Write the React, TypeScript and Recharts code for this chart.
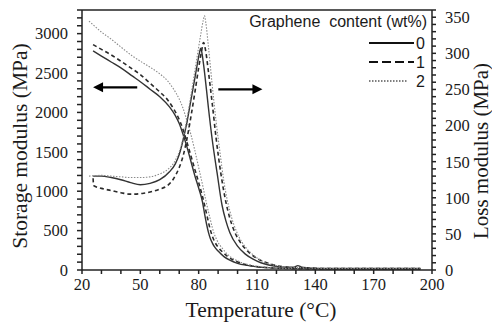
import React from 'react';
import { ComposedChart, Line, XAxis, YAxis, ReferenceLine } from 'recharts';

// ---- Storage modulus (left axis, MPa) ----
const storage0T = [25.7, 30, 35, 40, 46, 50, 55, 60, 65, 68, 70, 72, 74, 76, 78, 80, 82, 83, 84, 85, 86, 87, 88, 90, 93, 96, 100, 105, 110, 115, 120, 130, 140, 160, 180, 194];
const storage0V = [2780, 2715, 2640, 2565, 2460, 2390, 2295, 2200, 2070, 1960, 1860, 1720, 1560, 1380, 1200, 1040, 860, 720, 590, 480, 400, 345, 300, 240, 170, 125, 85, 58, 40, 30, 24, 18, 15, 13, 12, 12];

const storage1T = [25.7, 30, 35, 40, 46, 50, 55, 60, 64, 67, 70.5, 72, 74, 76, 78, 80, 82, 84, 85, 86, 87, 88, 90, 92, 95, 98, 102, 107, 112, 118, 125, 135, 150, 170, 194];
const storage1V = [2860, 2800, 2730, 2650, 2550, 2480, 2370, 2260, 2160, 2050, 1880, 1780, 1620, 1450, 1280, 1110, 930, 720, 610, 510, 430, 370, 290, 235, 170, 125, 85, 55, 38, 26, 19, 15, 13, 12, 12];

const storage2T = [23.6, 30, 35, 40, 46, 50, 55, 60, 64, 67, 70, 72, 74, 76, 78, 80, 82, 84, 86, 87, 88, 89, 90, 92, 95, 98, 102, 107, 112, 118, 125, 135, 150, 170, 194];
const storage2V = [3160, 3020, 2930, 2830, 2715, 2650, 2575, 2490, 2400, 2300, 2170, 2050, 1890, 1720, 1520, 1300, 1080, 850, 640, 540, 460, 400, 350, 280, 195, 140, 95, 60, 42, 28, 20, 16, 14, 13, 12];

// ---- Loss modulus (right axis, MPa) ----
const loss0T = [25.7, 30, 35, 40, 45, 50, 55, 60, 65, 68, 70, 72, 74, 76, 78, 79.5, 80.5, 81, 81.5, 82.5, 84, 85, 87, 89.5, 92, 94, 96, 100, 104, 108, 112, 116, 120, 125, 129, 131, 133, 136, 145, 160, 180, 194];
const loss0V = [130, 130, 128, 125, 121, 118, 120, 125, 136, 147, 160, 180, 205, 235, 265, 288, 302, 307, 303, 285, 250, 225, 180, 134, 90, 68, 52, 33, 22, 15, 10, 7, 5, 4, 4, 6, 4, 3, 2, 2, 2, 2];

const loss1T = [25.7, 26, 30, 35, 40, 45, 51, 55, 60, 64, 67, 70, 72, 74, 76, 78, 80, 81.5, 82.5, 83.5, 85, 87, 89, 91.5, 94, 96, 98, 102, 106, 110, 115, 120, 125, 130, 135, 145, 160, 180, 194];
const loss1V = [127, 117, 113, 110, 107, 105, 106, 108, 112, 117, 126, 142, 158, 182, 212, 245, 280, 303, 315, 305, 275, 230, 182, 132, 94, 72, 56, 36, 24, 16, 10, 6, 4, 3, 3, 2, 2, 2, 2];

const loss2T = [23.6, 30, 35, 40, 45, 50, 55, 60, 64, 68, 71, 74, 77, 79, 81, 82.3, 83, 83.7, 85, 87, 89, 91, 93, 96, 100, 104, 108, 113, 120, 127, 135, 150, 170, 194];
const loss2V = [130, 131, 130, 129, 128, 128, 129, 133, 139, 152, 172, 210, 258, 292, 325, 345, 352, 342, 310, 255, 205, 162, 122, 82, 50, 32, 21, 12, 6, 4, 3, 2, 2, 2];

// ---- axes ----
const xTicks = [20, 30, 40, 50, 60, 70, 80, 90, 100, 110, 120, 130, 140, 150, 160, 170, 180, 190, 200];
const xLabelStep = 30;
const leftTicks = Array.from({ length: 34 }, (_, i) => i * 100);
const leftLabelStep = 500;
const rightTicks = Array.from({ length: 37 }, (_, i) => i * 10);
const rightLabelStep = 50;

// ---- legend / annotations ----
const legendTitle = 'Graphene  content (wt%)';
const legendLabels = ['0', '1', '2'];
const leftArrow = { from: [48.4, 2318], to: [25.7, 2318] };
const rightArrow = { from: [90.1, 2293], to: [112.8, 2293] };

const zip = (t: number[], v: number[]) => t.map((x, i) => ({ t: x, v: v[i] }));

const serif = '"Liberation Serif", "Times New Roman", serif';
const sans = '"Liberation Sans", Arial, sans-serif';
const axisColor = '#222';
const textColor = '#1a1a1a';
const tickFont = 16.5;

const ArrowShape = (props: any) => {
  const { x1, y1, x2, y2 } = props;
  if ([x1, y1, x2, y2].some((v) => typeof v !== 'number' || isNaN(v))) return <g />;
  const dir = x2 > x1 ? 1 : -1;
  const head = 10;
  const hw = 5;
  return (
    <g>
      <line x1={x1} y1={y1} x2={x2 - dir * head * 0.8} y2={y2} stroke="#000" strokeWidth={2.4} />
      <polygon points={`${x2},${y2} ${x2 - dir * head},${y2 - hw} ${x2 - dir * head},${y2 + hw}`} fill="#000" />
    </g>
  );
};

const XTick = (props: any) => {
  const { x, y, payload } = props;
  const v = payload.value;
  if ((v - 20) % xLabelStep !== 0) return <g />;
  return (
    <text x={x} y={y} dy="0.71em" textAnchor="middle" fontFamily={serif} fontSize={tickFont} fill={textColor}>
      {v}
    </text>
  );
};

const LeftTick = (props: any) => {
  const { x, y, payload } = props;
  const v = payload.value;
  if (v % leftLabelStep !== 0) return <g />;
  return (
    <text x={x} y={y} dy="0.355em" textAnchor="end" fontFamily={serif} fontSize={tickFont} fill={textColor}>
      {v}
    </text>
  );
};

const RightTick = (props: any) => {
  const { x, y, payload } = props;
  const v = payload.value;
  if (v % rightLabelStep !== 0) return <g />;
  return (
    <text x={x} y={y} dy="0.355em" textAnchor="start" fontFamily={serif} fontSize={tickFont} fill={textColor}>
      {v}
    </text>
  );
};

const lineStyles = [
  { stroke: '#333', strokeWidth: 1.4, dash: undefined as string | undefined },
  { stroke: '#2a2a2a', strokeWidth: 1.6, dash: '4 3' },
  { stroke: '#8a8a8a', strokeWidth: 1.1, dash: '1.5 1.5' },
];

export default function App() {
  const storage = [zip(storage0T, storage0V), zip(storage1T, storage1V), zip(storage2T, storage2V)];
  const loss = [zip(loss0T, loss0V), zip(loss1T, loss1V), zip(loss2T, loss2V)];
  return (
    <div style={{ position: 'absolute', left: 0, top: 0, width: 492, height: 326, background: '#fff' }}>
      <ComposedChart width={492} height={326} margin={{ top: 10, right: 0, bottom: 0, left: 0 }}>
        <XAxis
          type="number"
          dataKey="t"
          domain={[20, 200]}
          ticks={xTicks}
          interval={0}
          allowDataOverflow
          height={56}
          tick={<XTick />}
          tickSize={4}
          tickMargin={4}
          stroke={axisColor}
          strokeWidth={1.5}
        />
        <YAxis
          yAxisId="left"
          type="number"
          domain={[0, 3300]}
          ticks={leftTicks}
          interval={0}
          allowDataOverflow
          width={82}
          tick={<LeftTick />}
          tickSize={5}
          tickMargin={9}
          stroke={axisColor}
          strokeWidth={1.5}
        />
        <YAxis
          yAxisId="right"
          orientation="right"
          type="number"
          domain={[0, 360]}
          ticks={rightTicks}
          interval={0}
          allowDataOverflow
          width={60}
          tick={<RightTick />}
          tickSize={4}
          tickMargin={9}
          stroke={axisColor}
          strokeWidth={1.5}
        />
        <ReferenceLine yAxisId="left" y={3300} stroke={axisColor} strokeWidth={1.5} />
        {storage.map((d, i) => (
          <Line
            key={'s' + i}
            yAxisId="left"
            data={d}
            dataKey="v"
            type="monotone"
            dot={false}
            activeDot={false}
            stroke={lineStyles[i].stroke}
            strokeWidth={lineStyles[i].strokeWidth}
            strokeDasharray={lineStyles[i].dash}
            isAnimationActive={false}
          />
        ))}
        {loss.map((d, i) => (
          <Line
            key={'l' + i}
            yAxisId="right"
            data={d}
            dataKey="v"
            type="monotone"
            dot={false}
            activeDot={false}
            stroke={lineStyles[i].stroke}
            strokeWidth={lineStyles[i].strokeWidth}
            strokeDasharray={lineStyles[i].dash}
            isAnimationActive={false}
          />
        ))}
        <ReferenceLine
          yAxisId="left"
          segment={[{ x: leftArrow.from[0], y: leftArrow.from[1] }, { x: leftArrow.to[0], y: leftArrow.to[1] }]}
          shape={ArrowShape}
        />
        <ReferenceLine
          yAxisId="left"
          segment={[{ x: rightArrow.from[0], y: rightArrow.from[1] }, { x: rightArrow.to[0], y: rightArrow.to[1] }]}
          shape={ArrowShape}
        />
      </ComposedChart>
      <svg width={492} height={326} style={{ position: 'absolute', left: 0, top: 0, pointerEvents: 'none' }}>
        <text transform="translate(20,146) rotate(-90)" textAnchor="middle" dominantBaseline="central" fontFamily={serif} fontSize={21.5} fill={textColor}>
          Storage modulus (MPa)
        </text>
        <text transform="translate(481,151) rotate(-90)" textAnchor="middle" dominantBaseline="central" fontFamily={serif} fontSize={21} fill={textColor}>
          Loss modulus (MPa)
        </text>
        <text x={261} y={310} textAnchor="middle" dominantBaseline="central" fontFamily={serif} fontSize={21.5} fill={textColor}>
          Temperature (°C)
        </text>
        <text x={427} y={27} textAnchor="end" fontFamily={sans} fontSize={16} fill={textColor} style={{ whiteSpace: 'pre' }}>
          {legendTitle}
        </text>
        <line x1={369} y1={43} x2={414} y2={43} stroke="#111" strokeWidth={2.2} />
        <line x1={369} y1={62} x2={414} y2={62} stroke="#111" strokeWidth={2.2} strokeDasharray="9 4" />
        <line x1={369} y1={81} x2={408} y2={81} stroke="#555" strokeWidth={1.4} strokeDasharray="1.5 1.5" />
        {legendLabels.map((l, i) => (
          <text key={l} x={416} y={49 + i * 19} fontFamily={sans} fontSize={16} fill={textColor}>
            {l}
          </text>
        ))}
      </svg>
    </div>
  );
}
